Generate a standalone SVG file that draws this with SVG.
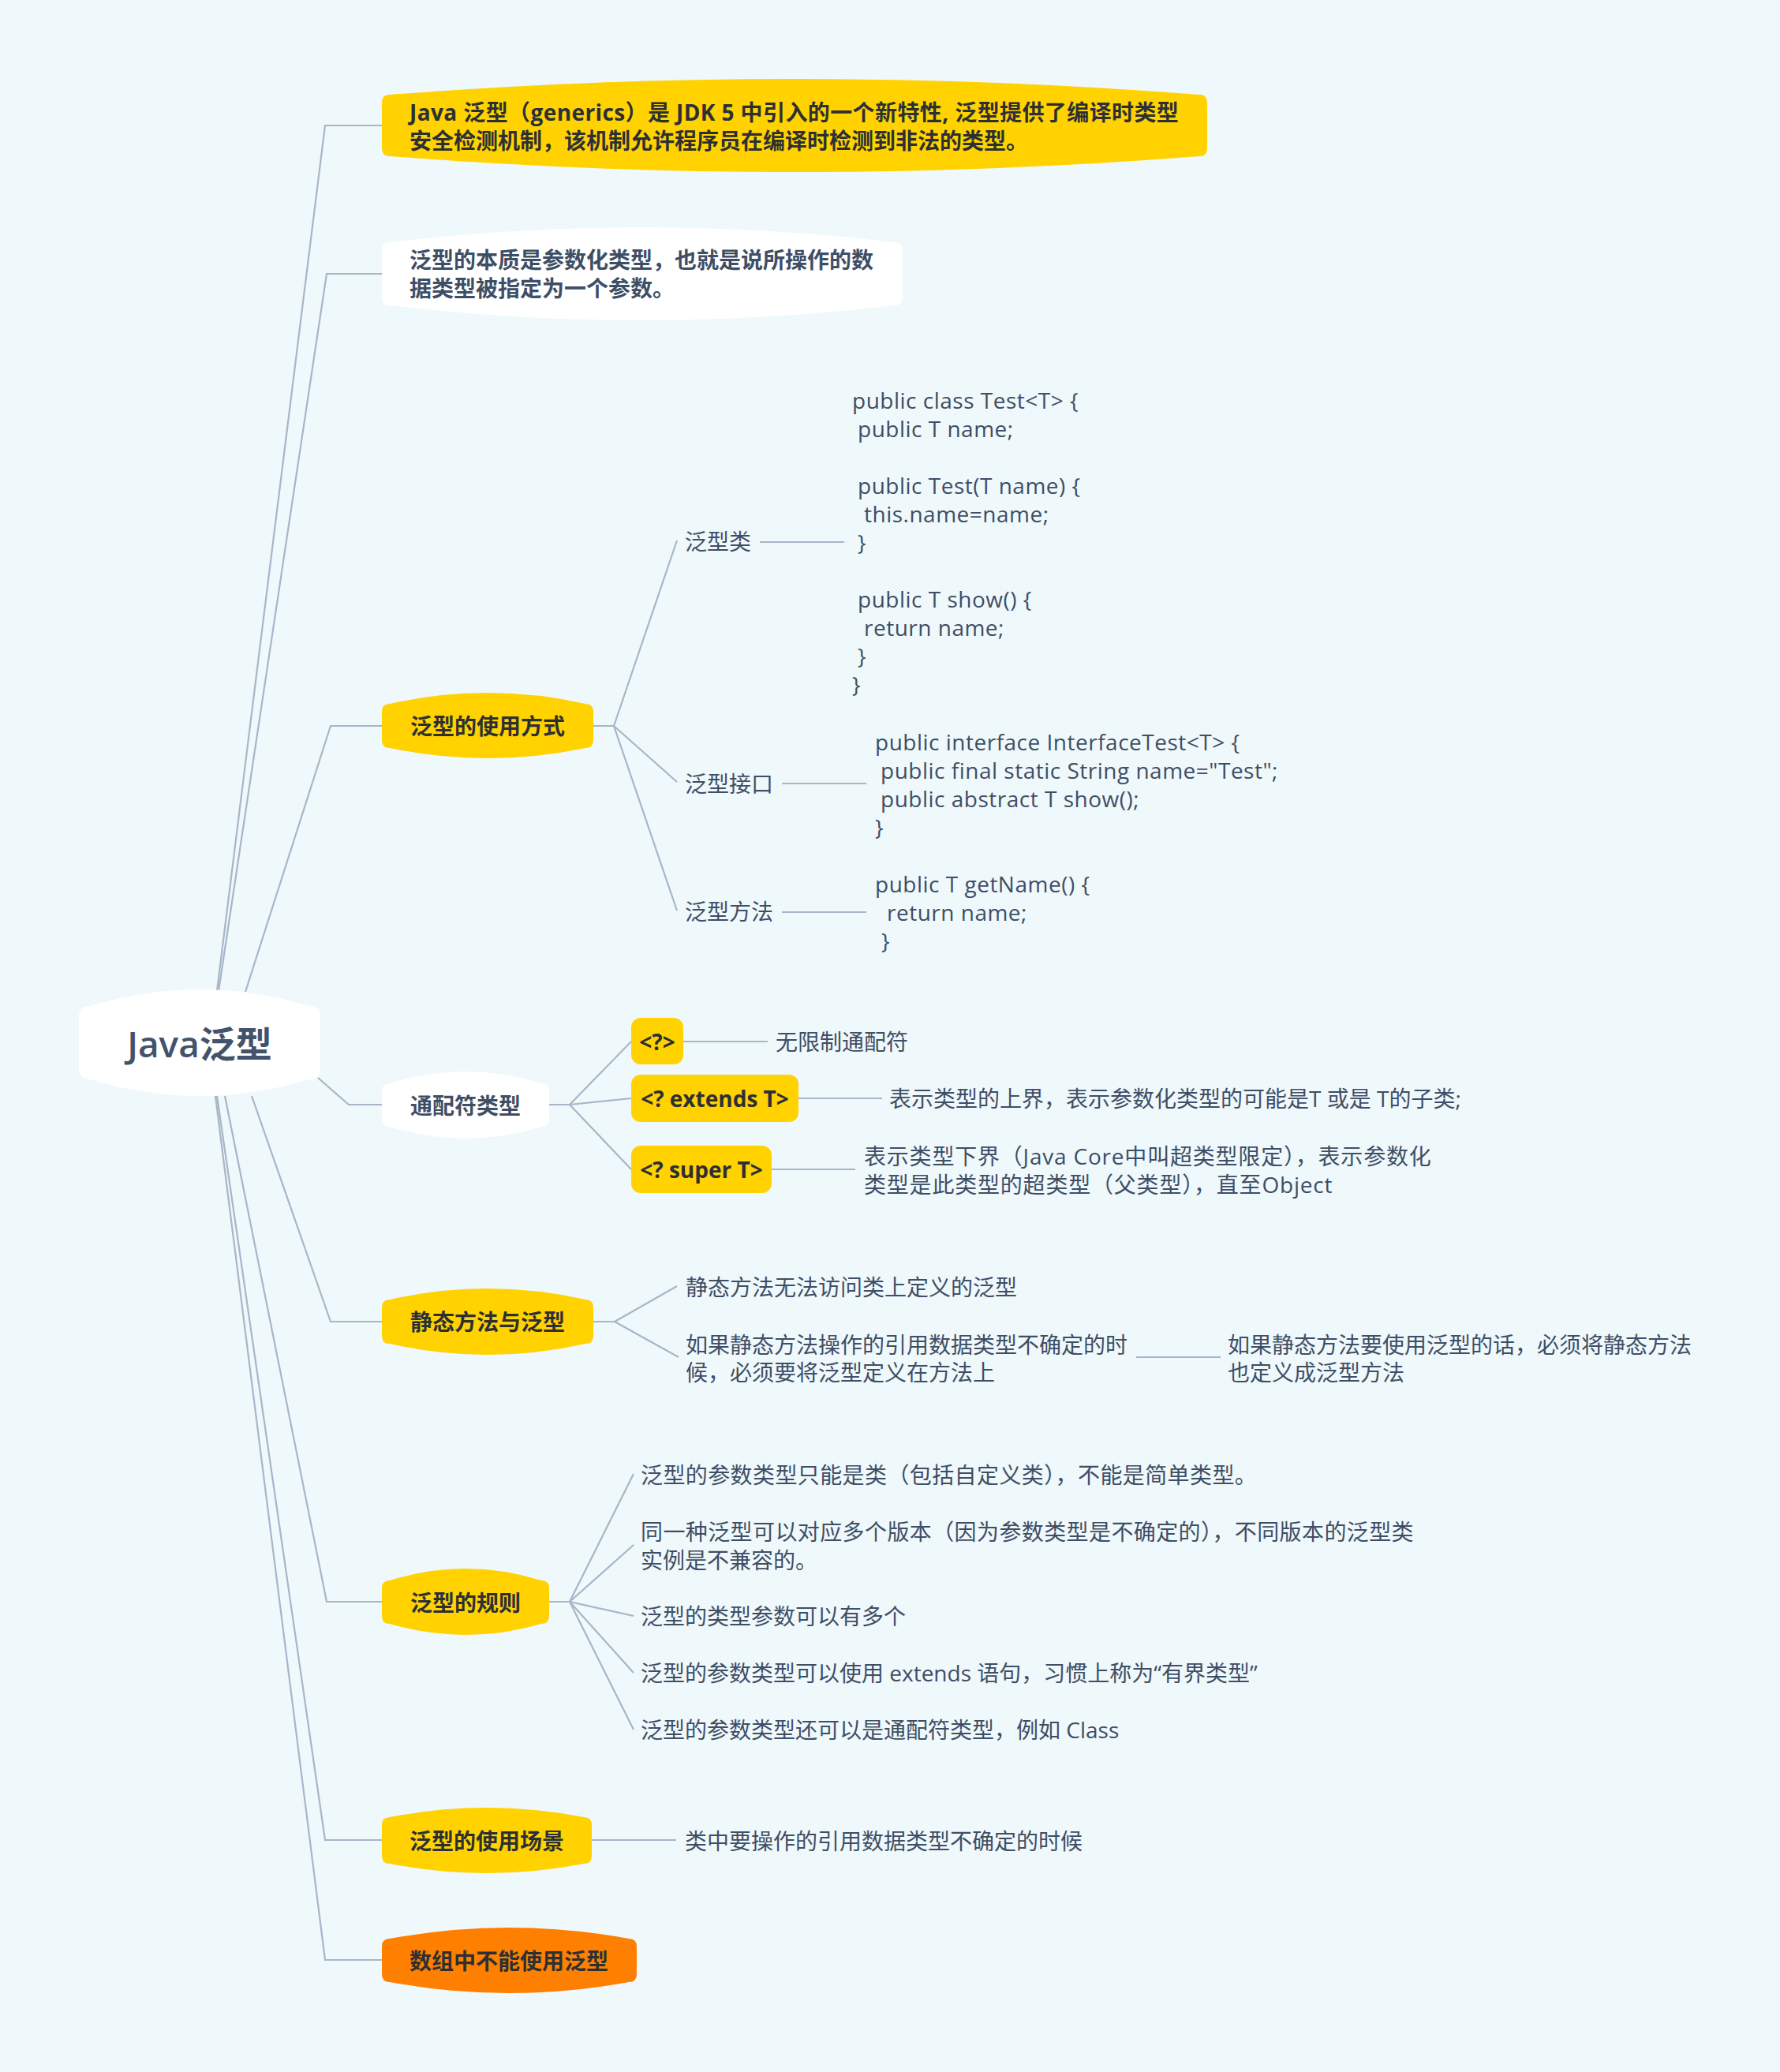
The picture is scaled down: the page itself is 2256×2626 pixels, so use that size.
<svg xmlns="http://www.w3.org/2000/svg" width="2256" height="2626" viewBox="0 0 2256 2626">
<style>
.bg{fill:#eff8fb}
.ln{fill:none;stroke:#a7b6c8;stroke-width:2.2;stroke-linejoin:miter}
.yel{fill:#ffd200}
.org{fill:#ff7f00}
.wht{fill:#ffffff}
text{font-family:"Open Sans","Noto Sans CJK SC",sans-serif;font-size:28px;dominant-baseline:central}
.t{fill:#3e4e65}
.b{font-weight:bold;fill:#2c3035}
.bw{font-weight:bold;fill:#3e4e65}
.root{font-size:46px;font-weight:600;fill:#43536b}
.mid{text-anchor:middle}
.code{letter-spacing:0.5px}
.ls{letter-spacing:0.4px}
.ls2{letter-spacing:0.8px}
</style>
<rect class="bg" x="0" y="0" width="2256" height="2626"/>

<g id="connectors">
<path class="ln" d="M275,1256 L412,159 L484,159"/>
<path class="ln" d="M277,1256 L414,347 L484,347"/>
<path class="ln" d="M311,1257 L419,920 L484,920"/>
<path class="ln" d="M403,1366 L442,1400 L484,1400"/>
<path class="ln" d="M319,1389 L419,1675 L484,1675"/>
<path class="ln" d="M285,1389 L414,2030 L484,2030"/>
<path class="ln" d="M275,1389 L412,2332 L484,2332"/>
<path class="ln" d="M273,1389 L412,2484 L484,2484"/>

<path class="ln" d="M752,920 L778,920 M778,920 L858,685 M778,920 L858,991 M778,920 L858,1154"/>
<path class="ln" d="M963,687 L1070,687 M991,993 L1098,993 M991,1156 L1098,1156"/>

<path class="ln" d="M696,1400 L722,1400 M722,1400 L800,1320 M722,1400 L800,1392 M722,1400 L800,1482"/>
<path class="ln" d="M866,1320 L973,1320 M1012,1392 L1118,1392 M978,1482 L1084,1482"/>

<path class="ln" d="M752,1675 L779,1675 M779,1675 L858,1630 M779,1675 L860,1720 M1440,1720 L1547,1720"/>

<path class="ln" d="M696,2030 L722,2030 M722,2030 L803,1868 M722,2030 L803,1958 M722,2030 L803,2048 M722,2030 L803,2120 M722,2030 L803,2192"/>

<path class="ln" d="M750,2332 L857,2332"/>
</g>

<g id="root">
<path class="wht" d="M114,1275 Q253,1233 392,1275 Q406,1275 406,1289 L406,1354 Q406,1368 392,1368 Q253,1410 114,1368 Q100,1368 100,1354 L100,1289 Q100,1275 114,1275 Z"/>
<text class="root mid" x="253" y="1322">Java泛型</text>
</g>

<g id="node-intro">
<path class="yel" d="M494,120 Q1007,80 1520,120 Q1530,120 1530,130 L1530,188 Q1530,198 1520,198 Q1007,238 494,198 Q484,198 484,188 L484,130 Q484,120 494,120 Z"/>
<text class="b ls" x="519" y="142">Java 泛型（generics）是 JDK 5 中引入的一个新特性, 泛型提供了编译时类型</text>
<text class="b" x="519" y="178">安全检测机制，该机制允许程序员在编译时检测到非法的类型。</text>
</g>

<g id="node-essence">
<path class="wht" d="M494,307 Q814,269 1134,307 Q1144,307 1144,317 L1144,377 Q1144,387 1134,387 Q814,425 494,387 Q484,387 484,377 L484,317 Q484,307 494,307 Z"/>
<text class="bw" x="519" y="329">泛型的本质是参数化类型，也就是说所操作的数</text>
<text class="bw" x="519" y="365">据类型被指定为一个参数。</text>
</g>

<g id="node-usage">
<path class="yel" d="M494,892 Q618,864 742,892 Q752,892 752,902 L752,938 Q752,948 742,948 Q618,974 494,948 Q484,948 484,938 L484,902 Q484,892 494,892 Z"/>
<text class="b mid" x="618" y="920">泛型的使用方式</text>
</g>
<g id="usage-class">
<text class="t" x="868" y="686">泛型类</text>
</g>
<g id="usage-class-code">
<text class="t code" x="1080" y="507">public class Test&lt;T&gt; {</text>
<text class="t code" x="1087" y="543">public T name;</text>
<text class="t code" x="1087" y="615">public Test(T name) {</text>
<text class="t code" x="1095" y="651">this.name=name;</text>
<text class="t code" x="1087" y="687">}</text>
<text class="t code" x="1087" y="759">public T show() {</text>
<text class="t code" x="1095" y="795">return name;</text>
<text class="t code" x="1087" y="831">}</text>
<text class="t code" x="1080" y="867">}</text>
</g>
<g id="usage-interface">
<text class="t" x="868" y="993">泛型接口</text>
</g>
<g id="usage-interface-code">
<text class="t code" x="1109" y="940">public interface InterfaceTest&lt;T&gt; {</text>
<text class="t code" x="1116" y="976">public final static String name="Test";</text>
<text class="t code" x="1116" y="1012">public abstract T show();</text>
<text class="t code" x="1109" y="1048">}</text>
</g>
<g id="usage-method">
<text class="t" x="868" y="1155">泛型方法</text>
</g>
<g id="usage-method-code">
<text class="t code" x="1109" y="1120">public T getName() {</text>
<text class="t code" x="1124" y="1156">return name;</text>
<text class="t code" x="1117" y="1192">}</text>
</g>

<g id="node-wildcard">
<path class="wht" d="M494,1373 Q590,1343 686,1373 Q696,1373 696,1383 L696,1418 Q696,1428 686,1428 Q590,1458 494,1428 Q484,1428 484,1418 L484,1383 Q484,1373 494,1373 Z"/>
<text class="bw mid" x="590" y="1401">通配符类型</text>
</g>
<g id="wc-unbounded">
<rect class="yel" x="800" y="1290" width="66" height="59" rx="12"/>
<text class="b mid" x="833" y="1320">&lt;?&gt;</text>
</g>
<g id="wc-unbounded-desc"><text class="t" x="983" y="1320">无限制通配符</text></g>
<g id="wc-extends">
<rect class="yel" x="800" y="1362" width="212" height="60" rx="12"/>
<text class="b mid" x="906" y="1392">&lt;? extends T&gt;</text>
</g>
<g id="wc-extends-desc"><text class="t" x="1127" y="1392">表示类型的上界，表示参数化类型的可能是T 或是 T的子类;</text></g>
<g id="wc-super">
<rect class="yel" x="800" y="1452" width="178" height="60" rx="12"/>
<text class="b mid" x="889" y="1482">&lt;? super T&gt;</text>
</g>
<g id="wc-super-desc">
<text class="t ls2" x="1095" y="1465">表示类型下界（Java Core中叫超类型限定），表示参数化</text>
<text class="t ls2" x="1095" y="1501">类型是此类型的超类型（父类型），直至Object</text>
</g>

<g id="node-static">
<path class="yel" d="M494,1647 Q618,1619 742,1647 Q752,1647 752,1657 L752,1693 Q752,1703 742,1703 Q618,1731 494,1703 Q484,1703 484,1693 L484,1657 Q484,1647 494,1647 Z"/>
<text class="b mid" x="618" y="1675">静态方法与泛型</text>
</g>
<g id="static-1"><text class="t" x="869" y="1631">静态方法无法访问类上定义的泛型</text></g>
<g id="static-2">
<text class="t" x="869" y="1704">如果静态方法操作的引用数据类型不确定的时</text>
<text class="t" x="869" y="1739">候，必须要将泛型定义在方法上</text>
</g>
<g id="static-3">
<text class="t" x="1556" y="1704">如果静态方法要使用泛型的话，必须将静态方法</text>
<text class="t" x="1556" y="1739">也定义成泛型方法</text>
</g>

<g id="node-rules">
<path class="yel" d="M494,2003 Q590,1973 686,2003 Q696,2003 696,2013 L696,2048 Q696,2058 686,2058 Q590,2086 494,2058 Q484,2058 484,2048 L484,2013 Q484,2003 494,2003 Z"/>
<text class="b mid" x="590" y="2031">泛型的规则</text>
</g>
<g id="rule-1"><text class="t ls" x="812" y="1869">泛型的参数类型只能是类（包括自定义类），不能是简单类型。</text></g>
<g id="rule-2">
<text class="t ls" x="812" y="1941">同一种泛型可以对应多个版本（因为参数类型是不确定的），不同版本的泛型类</text>
<text class="t" x="812" y="1977">实例是不兼容的。</text>
</g>
<g id="rule-3"><text class="t" x="812" y="2048">泛型的类型参数可以有多个</text></g>
<g id="rule-4"><text class="t" x="812" y="2120">泛型的参数类型可以使用 extends 语句，习惯上称为“有界类型”</text></g>
<g id="rule-5"><text class="t" x="812" y="2192">泛型的参数类型还可以是通配符类型，例如 Class</text></g>

<g id="node-scene">
<path class="yel" d="M494,2303 Q617,2279 740,2303 Q750,2303 750,2313 L750,2352 Q750,2362 740,2362 Q617,2386 494,2362 Q484,2362 484,2352 L484,2313 Q484,2303 494,2303 Z"/>
<text class="b mid" x="617" y="2333">泛型的使用场景</text>
</g>
<g id="scene-1"><text class="t" x="868" y="2333">类中要操作的引用数据类型不确定的时候</text></g>

<g id="node-array">
<path class="org" d="M494,2457 Q645,2429 797,2457 Q807,2457 807,2467 L807,2502 Q807,2512 797,2512 Q645,2540 494,2512 Q484,2512 484,2502 L484,2467 Q484,2457 494,2457 Z"/>
<text class="b mid" x="645" y="2485">数组中不能使用泛型</text>
</g>
</svg>
